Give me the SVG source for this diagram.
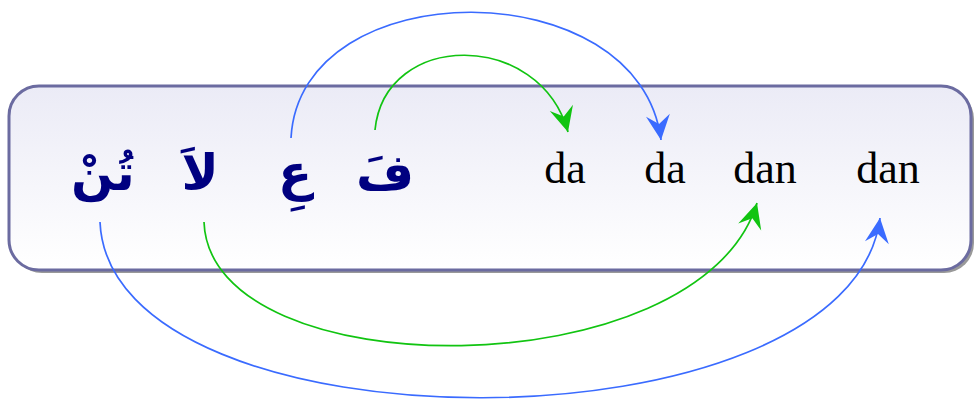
<svg xmlns="http://www.w3.org/2000/svg" width="974" height="401" viewBox="0 0 974 401">
<defs>
<linearGradient id="bg" x1="0" y1="0" x2="0" y2="1">
<stop offset="0" stop-color="#ebebf6"/>
<stop offset="1" stop-color="#ffffff"/>
</linearGradient>
<marker id="ag" markerUnits="userSpaceOnUse" markerWidth="30" markerHeight="30" viewBox="-28 -14 30 28" refX="0" refY="0" orient="auto">
<path d="M0,0 L-25,-12 L-16,0 L-25,12 Z" fill="#11c411"/>
</marker>
<marker id="ab" markerUnits="userSpaceOnUse" markerWidth="30" markerHeight="30" viewBox="-28 -14 30 28" refX="0" refY="0" orient="auto">
<path d="M0,0 L-25,-12 L-16,0 L-25,12 Z" fill="#3a6bff"/>
</marker>
</defs>
<style>
.ar{font-family:"DejaVu Sans",sans-serif;font-weight:bold;font-size:50px;fill:#000080;text-anchor:middle}
.la{font-family:"Liberation Serif",serif;font-size:44px;fill:#000;text-anchor:middle}
.g{fill:none;stroke:#11c411;stroke-width:1.7;marker-end:url(#ag)}
.b{fill:none;stroke:#3a6bff;stroke-width:1.7;marker-end:url(#ab)}
</style>
<g id="box">
<rect x="12" y="89" width="962" height="184" rx="30" fill="#999999"/>
<rect x="9" y="86" width="962" height="184" rx="30" fill="url(#bg)" stroke="#6b6ba0" stroke-width="3"/>
</g>
<g id="arabic">
<text class="ar" x="385" y="190">فَ</text>
<text class="ar" x="295" y="190">عِ</text>
<text class="ar" x="200" y="190">لاَ</text>
<text class="ar" x="103" y="190">تُنْ</text>
</g>
<g id="latin">
<text class="la" x="565" y="183">da</text>
<text class="la" x="665" y="183">da</text>
<text class="la" x="765" y="183">dan</text>
<text class="la" x="888" y="183">dan</text>
</g>
<g id="connectors">
<path class="g" d="M375,130 C385,30 540,30 568,132"/>
<path class="b" d="M291,138 C300,-30 640,-30 661,140"/>
<path class="g" d="M204,222 C210,390 700,390 757,203"/>
<path class="b" d="M100,222 C110,457 850,457 880,218"/>
</g>
</svg>
